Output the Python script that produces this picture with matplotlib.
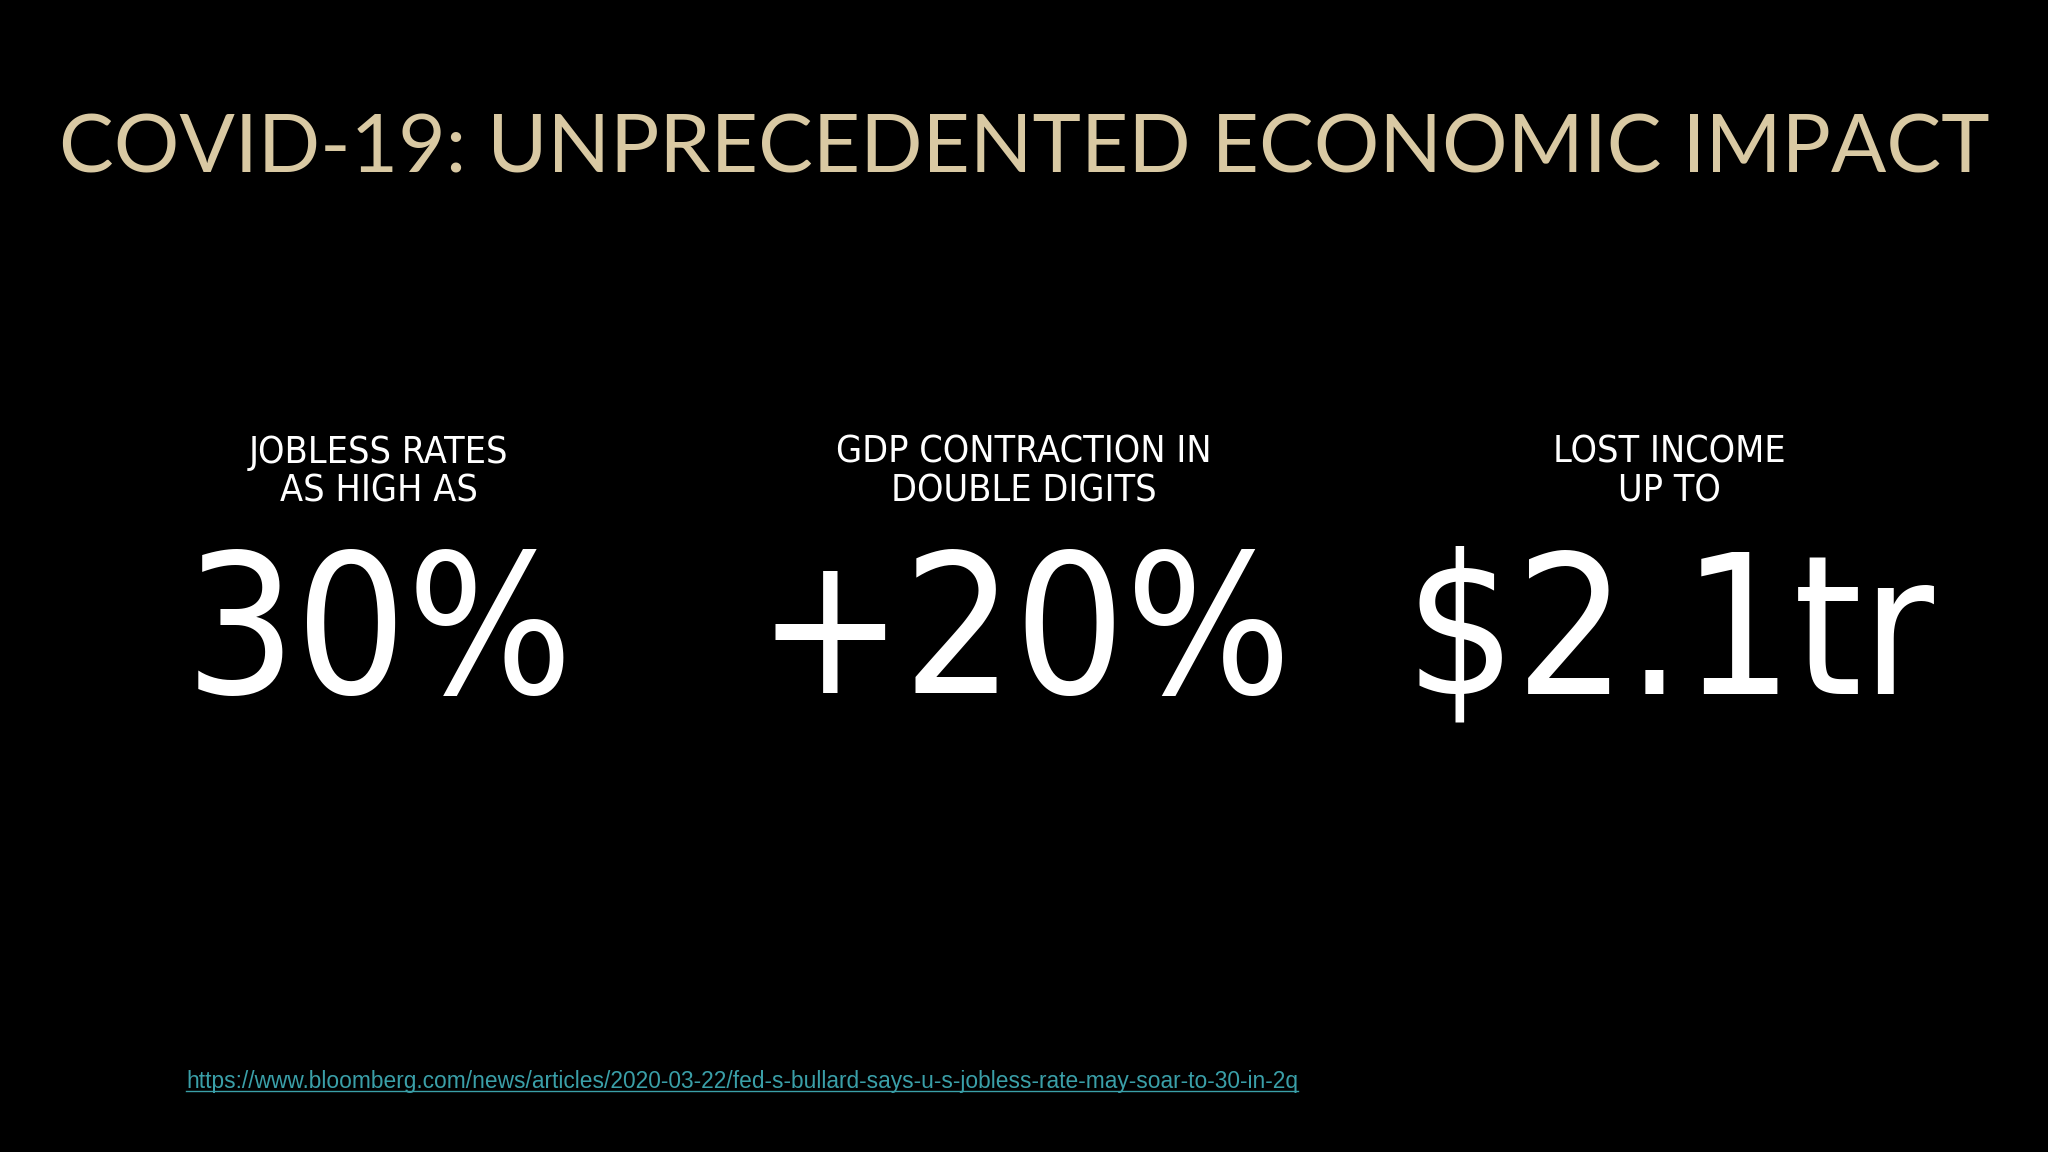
import matplotlib
matplotlib.use("Agg")
import matplotlib.pyplot as plt

# Slide content
TITLE = "COVID-19: UNPRECEDENTED ECONOMIC IMPACT"
labels = ["JOBLESS RATES\nAS HIGH AS", "GDP CONTRACTION IN\nDOUBLE DIGITS", "LOST INCOME\nUP TO"]
values = ["30%", "+20%", "$2.1tr"]
SOURCE = "https://www.bloomberg.com/news/articles/2020-03-22/fed-s-bullard-says-u-s-jobless-rate-may-soar-to-30-in-2q"

col_x = [0.185, 0.5, 0.815]
narrow = ["DejaVu Sans"]

fig = plt.figure(figsize=(20.48, 11.52), dpi=100)
fig.patch.set_facecolor("black")

fig.text(0.5, 0.87, TITLE, ha="center", va="center", color="#d9c9a3",
         fontsize=59, family=["Lato", "DejaVu Sans"], fontweight="normal")

for x, lab, val in zip(col_x, labels, values):
    fig.text(x, 0.59, lab, ha="center", va="center", color="white",
             fontsize=27, family=narrow, fontstretch="condensed", linespacing=1.1)
    fig.text(x, 0.445, val, ha="center", va="center", color="white",
             fontsize=140, family=narrow, fontstretch="condensed")

t = fig.text(0.091, 0.061, SOURCE, ha="left", va="center", color="#3a9fa8",
             fontsize=16.4, family=["Liberation Sans", "DejaVu Sans"])
# underline under the link
fig.canvas.draw()
bb = t.get_window_extent().transformed(fig.transFigure.inverted())
fig.add_artist(plt.Line2D([bb.x0, bb.x1], [bb.y0 + 0.002, bb.y0 + 0.002],
                          transform=fig.transFigure, color="#3a9fa8", lw=1))

fig.savefig("out.png", dpi=100, facecolor="black")
